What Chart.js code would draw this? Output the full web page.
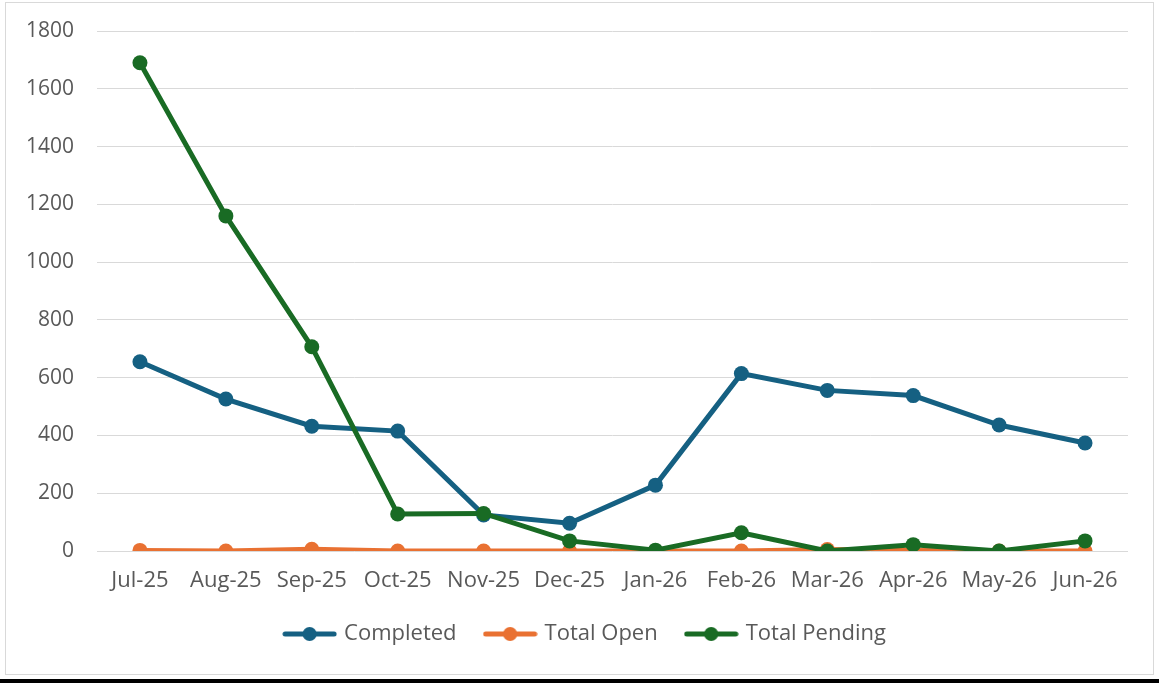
<!DOCTYPE html>
<html>
<head>
<meta charset="utf-8">
<script src="https://cdn.jsdelivr.net/npm/chart.js@4/dist/chart.umd.min.js"></script>
<style>
  html, body { margin: 0; padding: 0; background: #fff; }
  #wrap { position: relative; width: 1159px; height: 683px; }
  #frame { position: absolute; left: 5px; top: 2px; width: 1147px; height: 671px; border: 1px solid #d9d9d9; pointer-events: none; }
  #bar { position: absolute; left: 0; top: 679px; width: 1159px; height: 4px; background: #000; }
  canvas { position: absolute; left: 0; top: 0; }
</style>
</head>
<body>
<div id="wrap">
  <div id="frame"></div>
  <canvas id="chart" width="1159" height="683"></canvas>
  <div id="bar"></div>
</div>
<script>
// categories
const months = ['Jul-25', 'Aug-25', 'Sep-25', 'Oct-25', 'Nov-25', 'Dec-25',
                'Jan-26', 'Feb-26', 'Mar-26', 'Apr-26', 'May-26', 'Jun-26'];

// series values
const completed    = [655, 526, 432, 415, 125, 96, 228, 614, 556, 538, 436, 374];
const totalOpen    = [2, 0, 6, 0, 0, 0, 0, 0, 5, 2, 0, 0];
const totalPending = [1690, 1160, 707, 128, 130, 35, 3, 63, 0, 22, 0, 35];

const seriesNames = ['Completed', 'Total Open', 'Total Pending'];
const seriesColors = ['#156082', '#E97132', '#196B24'];

const textColor = '#595959';
const fontFamily = "'Open Sans', 'Noto Sans', sans-serif";

// legend marker: short line with a dot in the middle, like Excel
function legendMarker(color) {
    const c = document.createElement('canvas');
    c.width = 55;
    c.height = 16;
    const g = c.getContext('2d');
    g.strokeStyle = color;
    g.lineWidth = 5;
    g.lineCap = 'round';
    g.beginPath();
    g.moveTo(3, 8);
    g.lineTo(52, 8);
    g.stroke();
    g.fillStyle = color;
    g.beginPath();
    g.arc(27.5, 8, 7, 0, Math.PI * 2);
    g.fill();
    return c;
}

// nudge the legend a bit right, Excel centres it on the whole frame
const legendShift = {
    id: 'legendShift',
    afterLayout(chart) {
        chart.legend.left += 22;
        chart.legend.right += 22;
    }
};

const seriesData = [completed, totalOpen, totalPending];

const datasets = seriesData.map((d, i) => ({
    label: seriesNames[i],
    data: d,
    borderColor: seriesColors[i],
    backgroundColor: seriesColors[i],
    pointBackgroundColor: seriesColors[i],
    pointBorderColor: seriesColors[i],
    borderWidth: 5,
    pointRadius: 7.5,
    pointBorderWidth: 0,
    tension: 0,
    fill: false,
    order: 3 - i // later series on top, as in Excel
}));

new Chart(document.getElementById('chart'), {
    type: 'line',
    data: { labels: months, datasets: datasets },
    plugins: [legendShift],
    options: {
        responsive: false,
        animation: false,
        layout: {
            padding: { left: 0, right: 31, top: 31, bottom: 28 }
        },
        plugins: {
            tooltip: { enabled: false },
            legend: {
                position: 'bottom',
                labels: {
                    usePointStyle: true,
                    pointStyleWidth: 47,
                    padding: 30,
                    color: textColor,
                    font: { family: fontFamily, size: 22 },
                    generateLabels: function(chart) {
                        return chart.data.datasets.map((ds, i) => ({
                            text: ds.label,
                            pointStyle: legendMarker(seriesColors[i]),
                            fillStyle: seriesColors[i],
                            strokeStyle: seriesColors[i],
                            lineWidth: 0,
                            fontColor: textColor,
                            hidden: false,
                            datasetIndex: i
                        }));
                    }
                }
            }
        },
        scales: {
            x: {
                offset: true,
                grid: { display: false, drawTicks: false },
                border: { display: false },
                ticks: {
                    color: textColor,
                    font: { family: fontFamily, size: 22, lineHeight: 1 },
                    padding: 19,
                    maxRotation: 0,
                    autoSkip: false
                },
                afterFit: function(scale) { scale.height = 42; }
            },
            y: {
                min: 0,
                max: 1800,
                grid: { color: '#d9d9d9', lineWidth: 1, drawTicks: false },
                border: { display: false },
                ticks: {
                    stepSize: 200,
                    color: textColor,
                    font: { family: fontFamily, size: 21 },
                    padding: 23,
                    callback: function(value) { return String(value); }
                },
                afterFit: function(scale) {
                    scale.width = 97;
                    scale.paddingTop = 0;
                    scale.paddingBottom = 0;
                }
            }
        }
    }
});
</script>
</body>
</html>
